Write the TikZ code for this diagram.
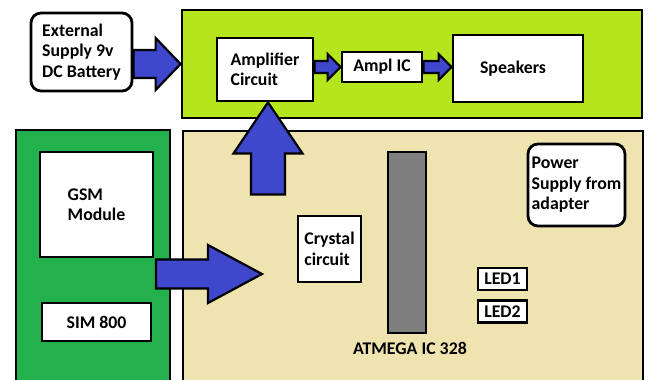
\documentclass[tikz,border=0pt]{standalone}
\usepackage{fontspec}
\setmainfont{Carlito}
\usepackage{tikz}
\usetikzlibrary{calc,positioning}
\definecolor{limeboard}{HTML}{B5E61D}
\definecolor{gsmgreen}{HTML}{22B14C}
\definecolor{mcutan}{HTML}{EFE4B0}
\definecolor{arrblue}{HTML}{3F48CC}
\definecolor{chipgray}{HTML}{7F7F7F}
% block arrows, drawn from anchor to anchor
\newcommand{\harrow}[5]{%
  \draw[blockarr] let \p1=(#1), \p2=(#2) in
    (\x1,\y1-#3) -- (\x2-#5,\y1-#3) -- (\x2-#5,\y1-#4) -- (\x2,\y1)
    -- (\x2-#5,\y1+#4) -- (\x2-#5,\y1+#3) -- (\x1,\y1+#3) -- cycle;}
\newcommand{\varrow}[5]{%
  \draw[blockarr] let \p1=(#1), \p2=(#2) in
    (\x1-#3,\y1) -- (\x1-#3,\y2-#5) -- (\x1-#4,\y2-#5) -- (\x1,\y2)
    -- (\x1+#4,\y2-#5) -- (\x1+#3,\y2-#5) -- (\x1+#3,\y1) -- cycle;}

\begin{document}
\begin{tikzpicture}[
  x=1pt, y=-1pt,
  font=\fontsize{17.8}{20.5}\selectfont\bfseries,
  board/.style = {draw=black, fill=#1, line width=2.8pt,
                  minimum width=460pt, inner sep=0pt},
  blk/.style   = {draw=black, fill=white, line width=2.8pt,
                  align=left, inner sep=2pt},
  rblk/.style  = {blk, rounded corners=10pt},
  blockarr/.style = {draw=black, fill=arrblue, line width=2.2pt,
                     line join=miter},
]
\useasboundingbox (0,0) rectangle (649,380);
\fill[white] (0,0) rectangle (649,380);
\clip (0,0) rectangle (649,380);

% boards
\node[board=limeboard, minimum height=108pt] (ampboard) at (412,64) {};
\node[board=gsmgreen, minimum width=154pt, minimum height=270pt] (gsmboard) at (93,265) {};
\node[board=mcutan, minimum height=269pt] (mcuboard) at (413,265.5) {};

% amplifier side
\node[rblk, minimum width=101pt, minimum height=78pt] (ext) at (81.5,52)
    {External\\Supply 9v\\DC Battery};
\node[blk, minimum width=96pt, minimum height=63pt] (amp) at (265,69.5)
    {Amplifier\\Circuit};
\node[blk, minimum width=80pt, minimum height=30pt] (amplic) at (382,67)
    {Ampl IC};
\node[blk, minimum width=130pt, minimum height=67pt] (spk) at (518,68.5)
    {Speakers\hspace{10pt}};

% gsm side
\node[blk, minimum width=113pt, minimum height=105pt] (gsm) at (96.5,204.5)
    {GSM\\Module};
\node[blk, minimum width=109pt, minimum height=38pt] (sim) at (96.5,322)
    {SIM 800};

% controller board
\node[blk, minimum width=63pt, minimum height=66pt] (crystal) at (329.5,249)
    {Crystal\\circuit};
\node[draw=black, fill=chipgray, line width=2.8pt, minimum width=38pt,
      minimum height=181pt, inner sep=0pt] (atmega) at (407,242.5) {};
\node[below=4pt of atmega, xshift=3pt] (atmegalbl) {ATMEGA IC 328};
\node[rblk, minimum width=97pt, minimum height=82pt] (power) at (576.5,185)
    {Power\\Supply from\\adapter};
\node[blk, minimum width=49pt, minimum height=22pt, inner sep=1pt] (led1) at (502.5,279)
    {LED1};
\node[blk, minimum width=49pt, minimum height=22pt, inner sep=1pt,
      below=8pt of led1] (led2) {LED2};

% free ends
\coordinate (gsmout) at (156,274);
\coordinate (gsmin) at (262,274);
\coordinate (ampfoot) at ($(amp.south)+(3,92)$);

% arrows
\harrow{ext.east |- ampboard.west}{ampboard.west}{14pt}{26pt}{25pt}
\harrow{amp.east |- amplic.west}{amplic.west}{6pt}{13pt}{13pt}
\harrow{amplic.east}{spk.west |- amplic.east}{6pt}{13pt}{13pt}
\harrow{gsmout}{gsmin}{14.5pt}{29pt}{54pt}
\varrow{ampfoot}{amp.south}{17pt}{34.5pt}{51pt}
\end{tikzpicture}
\end{document}
